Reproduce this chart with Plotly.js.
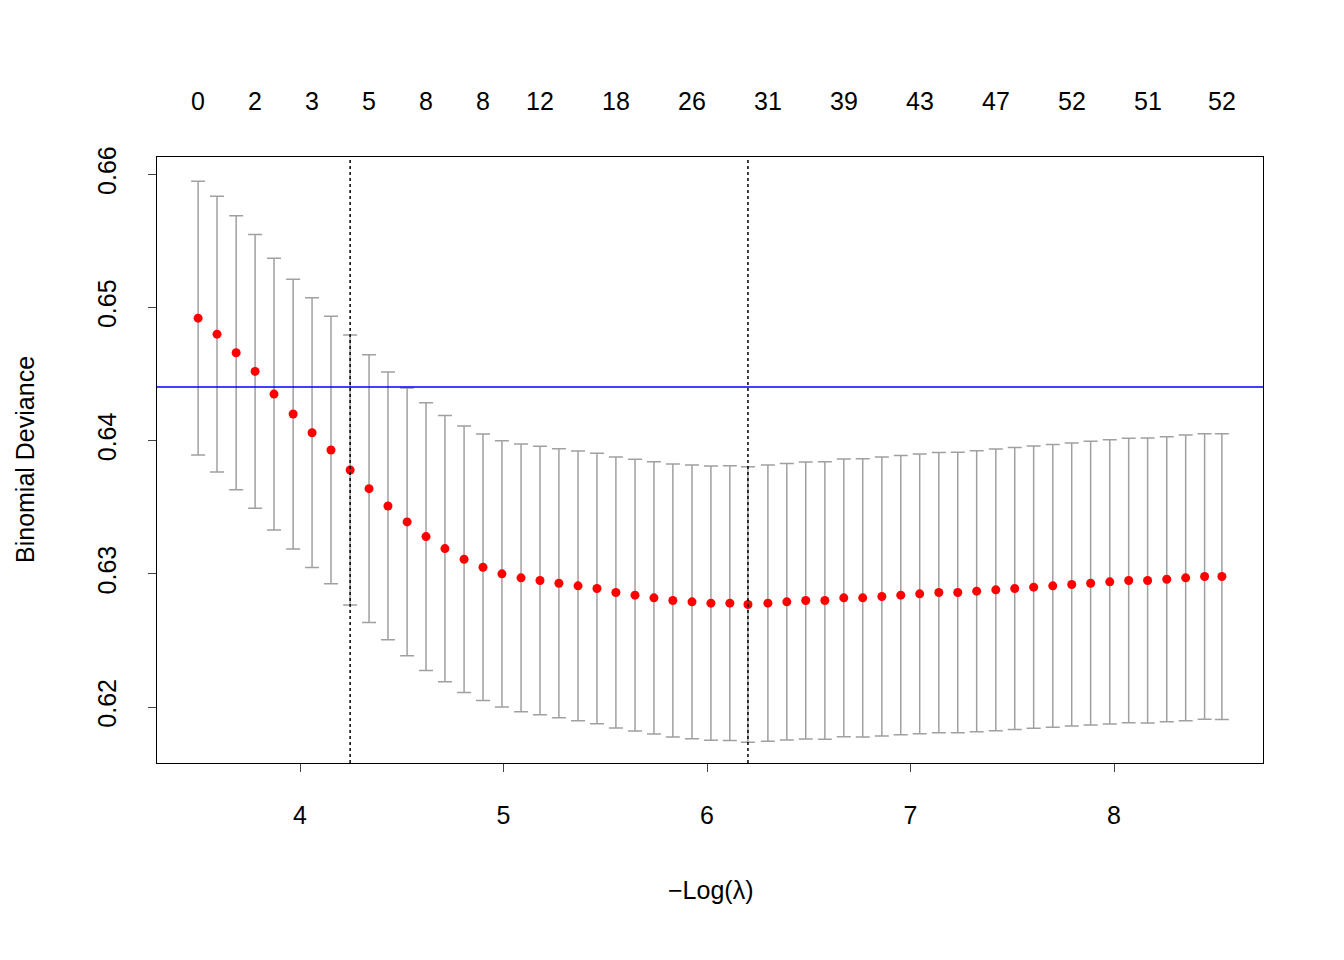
<!DOCTYPE html>
<html>
<head>
<meta charset="utf-8">
<script src="https://cdn.plot.ly/plotly-3.0.1.min.js"></script>
<style>body{margin:0;background:#fff}#plot{width:1344px;height:960px}</style>
</head>
<body>
<div id="plot"></div>
<script>
// -log(lambda) values
const logLambda = [3.499,3.592,3.686,3.779,3.872,3.966,4.059,4.152,4.246,4.339,
  4.432,4.526,4.619,4.712,4.806,4.899,4.992,5.086,5.179,5.272,
  5.366,5.459,5.552,5.646,5.739,5.832,5.926,6.019,6.112,6.201,
  6.299,6.392,6.485,6.579,6.672,6.765,6.859,6.952,7.045,7.139,
  7.232,7.325,7.419,7.512,7.605,7.699,7.792,7.885,7.979,8.072,
  8.165,8.259,8.352,8.445,8.530];
const cvMean = [0.6492,0.6480,0.6466,0.6452,0.6435,0.6420,0.6406,0.6393,0.6378,0.6364,
  0.6351,0.6339,0.6328,0.6319,0.6311,0.6305,0.6300,0.6297,0.6295,0.6293,
  0.6291,0.6289,0.6286,0.6284,0.6282,0.6280,0.6279,0.6278,0.6278,0.6277,
  0.6278,0.6279,0.6280,0.6280,0.6282,0.6282,0.6283,0.6284,0.6285,0.6286,
  0.6286,0.6287,0.6288,0.6289,0.6290,0.6291,0.6292,0.6293,0.6294,0.6295,
  0.6295,0.6296,0.6297,0.6298,0.6298];
const cvSd = [0.01028,0.01035,0.01028,0.01028,0.01020,0.01013,0.01013,0.01005,0.01013,0.01005,
  0.01005,0.01005,0.01005,0.01000,0.01000,0.01000,0.01000,0.01005,0.01008,0.01010,
  0.01012,0.01015,0.01017,0.01020,0.01022,0.01025,0.01027,0.01030,0.01032,0.01035,
  0.01037,0.01038,0.01040,0.01042,0.01043,0.01045,0.01047,0.01048,0.01050,0.01052,
  0.01053,0.01055,0.01057,0.01058,0.01060,0.01062,0.01063,0.01065,0.01067,0.01068,
  0.01070,0.01070,0.01072,0.01072,0.01073];
const topTickIdx = [0,3,6,9,12,15,18,22,26,30,34,38,42,46,50,54];
const topTickText = ['0','2','3','5','8','8','12','18','26','31','39','43','47','52','51','52'];
const lambdaMin = 6.201, lambda1se = 4.246, seLine = 0.64403;

const font = {family: 'Liberation Sans, Arial, sans-serif', size: 25, color: '#000'};

const trace = {
  x: logLambda, y: cvMean, type: 'scatter', mode: 'markers',
  marker: {color: '#ff0000', size: 9},
  error_y: {type: 'data', array: cvSd, visible: true, color: '#a0a0a0', thickness: 1.5, width: 7},
  hoverinfo: 'x+y'
};

const annotations = topTickIdx.map((i, k) => ({
  x: logLambda[i], y: 1, xref: 'x', yref: 'paper', yshift: 56,
  text: topTickText[k], showarrow: false, font: font, yanchor: 'middle'
}));
annotations.push({x: 0.5, y: 0, xref: 'paper', yref: 'paper', yshift: -127, yanchor: 'middle',
  text: '\u2212Log(\u03bb)', showarrow: false, font: font});
annotations.push({x: 0, y: 0.5, xref: 'paper', yref: 'paper', xshift: -132, xanchor: 'center',
  text: 'Binomial Deviance', textangle: -90, showarrow: false, font: font});

const layout = {
  width: 1344, height: 960,
  margin: {l: 157, r: 81, t: 157, b: 197},
  paper_bgcolor: '#fff', plot_bgcolor: '#fff',
  font: font, showlegend: false,
  xaxis: {range: [3.297, 8.732], tickvals: [4,5,6,7,8], ticks: 'outside', ticklen: 8,
    ticklabelstandoff: 22,
    showgrid: false, zeroline: false, showline: true, mirror: true, linecolor: '#000', linewidth: 1.2},
  yaxis: {range: [0.6158, 0.6613], tickvals: [0.62,0.63,0.64,0.65,0.66], tickangle: -90,
    ticks: 'outside', ticklen: 8, ticklabelstandoff: 22, showgrid: false, zeroline: false,
    showline: true, mirror: true, linecolor: '#000', linewidth: 1.2},
  shapes: [
    {type: 'line', xref: 'x', yref: 'paper', x0: lambda1se, x1: lambda1se, y0: 0, y1: 1,
      line: {color: '#000', width: 1.5, dash: 'dot'}},
    {type: 'line', xref: 'x', yref: 'paper', x0: lambdaMin, x1: lambdaMin, y0: 0, y1: 1,
      line: {color: '#000', width: 1.5, dash: 'dot'}},
    {type: 'line', xref: 'paper', yref: 'y', x0: 0, x1: 1, y0: seLine, y1: seLine,
      line: {color: '#0000ff', width: 1.5}}
  ],
  annotations: annotations
};

Plotly.newPlot('plot', [trace], layout, {displayModeBar: false});
</script>
</body>
</html>
